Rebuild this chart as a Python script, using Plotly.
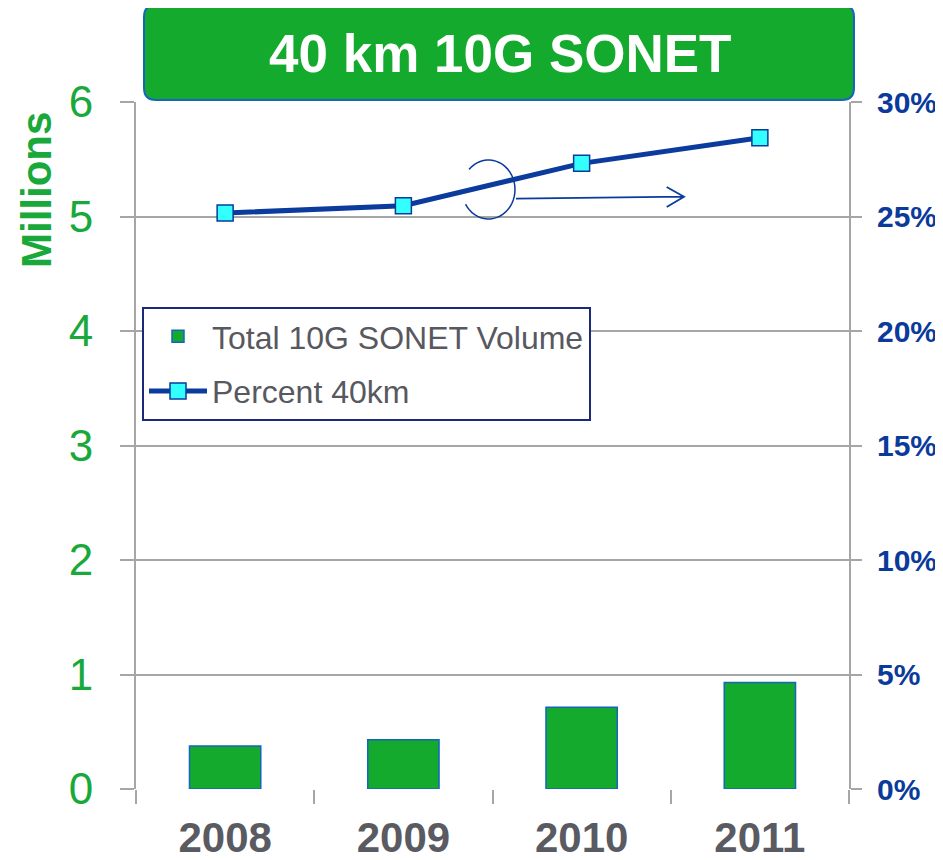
import math
import plotly.graph_objects as go

years = ["2008", "2009", "2010", "2011"]
volume_millions = [0.375, 0.43, 0.715, 0.93]
percent_40km = [0.2515, 0.2547, 0.2732, 0.2844]
y_ticks = [0, 1, 2, 3, 4, 5, 6]
y2_ticks = [0, 0.05, 0.10, 0.15, 0.20, 0.25, 0.30]

GREEN = "#14AA2D"
EDGE_BLUE = "#1565C0"
NAVY = "#0B3B9C"
CYAN = "#33FFFF"
GRID = "#A6A6A6"
LABEL_GRAY = "#5A5A62"

OFF = 8  # page body margin
W, H = 943 - OFF, 860 - OFF
L, T = 136 - OFF, 102 - OFF
R, B = 94, 71
PW, PH = W - L - R, H - T - B


def px(x):
    return (x - OFF - L) / PW


def py(y):
    return (H - B - (y - OFF)) / PH


fig = go.Figure()
fig.add_trace(go.Bar(
    x=years, y=volume_millions, name="Total 10G SONET Volume",
    marker=dict(color=GREEN, line=dict(color=EDGE_BLUE, width=1.5)),
    legendgroup="a", yaxis="y",
))
fig.add_trace(go.Scatter(
    x=years, y=percent_40km, name="Percent 40km", mode="lines+markers",
    line=dict(color=NAVY, width=5),
    marker=dict(symbol="square", size=16, color=CYAN, line=dict(color=NAVY, width=1.5)),
    legendgroup="b", yaxis="y2",
))

shapes = []
# rounded title box
x0, x1, y0, y1 = px(144), px(854), py(100), py(5)
rx, ry = 12 / PW, 12 / PH
path = (f"M {x0+rx},{y1} L {x1-rx},{y1} Q {x1},{y1} {x1},{y1-ry} "
        f"L {x1},{y0+ry} Q {x1},{y0} {x1-rx},{y0} L {x0+rx},{y0} "
        f"Q {x0},{y0} {x0},{y0+ry} L {x0},{y1-ry} Q {x0},{y1} {x0+rx},{y1} Z")
shapes.append(dict(type="path", xref="paper", yref="paper", path=path,
                   fillcolor=GREEN, line=dict(color=EDGE_BLUE, width=2), layer="above"))

# open ellipse arc (axis indicator)
cx, cy, erx, ery = 488.5, 189.5, 26.5, 29.5
pts = []
n = 40
for i in range(n + 1):
    th = math.radians(137 - 287 * i / n)
    pts.append((px(cx + erx * math.cos(th)), py(cy - ery * math.sin(th))))
arc = "M " + " L ".join(f"{a},{b}" for a, b in pts)
shapes.append(dict(type="path", xref="paper", yref="paper", path=arc,
                   line=dict(color=NAVY, width=1.5)))

# arrow pointing to right axis
arrow = (f"M {px(516)},{py(198.7)} L {px(684)},{py(196.7)} "
         f"M {px(666.7)},{py(187)} L {px(684)},{py(196.7)} L {px(666.7)},{py(207)}")
shapes.append(dict(type="path", xref="paper", yref="paper", path=arrow,
                   line=dict(color=NAVY, width=1.8)))

fig.update_layout(
    width=W, height=H,
    margin=dict(l=L, r=R, t=T, b=B, autoexpand=False),
    paper_bgcolor="white", plot_bgcolor="white",
    font=dict(family="Liberation Sans, Arial, sans-serif"),
    bargap=0.6,
    showlegend=True,
    legend=dict(
        x=px(142), y=py(307), xanchor="left", yanchor="top",
        bgcolor="white", bordercolor="#1A2A78", borderwidth=2,
        font=dict(size=32, color="#58585F"),
        traceorder="grouped", tracegroupgap=10, itemwidth=58,
    ),
    xaxis=dict(
        type="category", showgrid=False, showline=False,
        ticks="outside", tickson="boundaries", ticklen=14, tickcolor=GRID, tickwidth=2,
        tickfont=dict(size=42, color=LABEL_GRAY, family="Liberation Sans, Arial", weight="bold"),
        ticklabelstandoff=20, zeroline=False,
    ),
    yaxis=dict(
        range=[0, 6], tickvals=y_ticks, ticktext=[str(v) for v in y_ticks],
        showgrid=True, gridcolor=GRID, gridwidth=2,
        showline=True, linecolor=GRID, linewidth=2,
        ticks="outside", ticklen=14, tickcolor=GRID, tickwidth=2,
        tickfont=dict(size=44, color="#19A83A"), ticklabelstandoff=18,
        zeroline=False,
    ),
    yaxis2=dict(
        range=[0, 0.30], tickvals=y2_ticks, tickformat=".0%", overlaying="y", side="right",
        showgrid=False, showline=True, linecolor=GRID, linewidth=2,
        ticks="outside", ticklen=11, tickcolor=GRID, tickwidth=2,
        tickfont=dict(size=30, color="#0A3A9A", weight="bold"), ticklabelstandoff=9,
        zeroline=False,
    ),
    shapes=shapes,
    annotations=[
        dict(
            text="40 km 10G SONET", xref="paper", yref="paper", x=px(500), y=py(53),
            xanchor="center", yanchor="middle", showarrow=False,
            font=dict(size=53, color="white", family="Liberation Sans, Arial", weight="bold"),
        ),
        dict(
            text="Millions", xref="paper", yref="paper", x=px(36), y=py(190),
            xanchor="center", yanchor="middle", showarrow=False, textangle=-90,
            font=dict(size=42, color="#19A83A", family="Liberation Sans, Arial", weight="bold"),
        ),
    ],
)

fig.write_html("out.html")
